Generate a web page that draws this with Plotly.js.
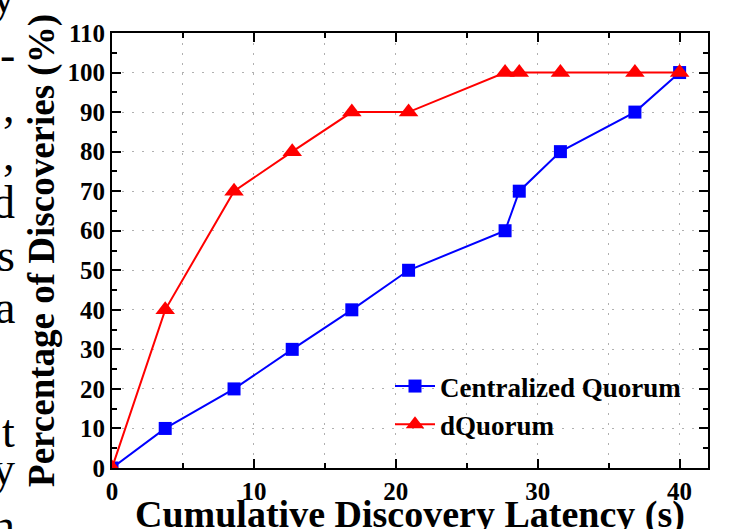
<!DOCTYPE html>
<html>
<head>
<meta charset="utf-8">
<script src="https://cdn.plot.ly/plotly-3.0.1.min.js"></script>
<style>
  html, body { margin: 0; padding: 0; background: #fff; }
  #chart { width: 734px; height: 529px; }
</style>
</head>
<body>
<div id="chart"></div>
<script>
// ---- data ----
const latency = [0, 3.75, 8.6, 12.7, 16.9, 20.9, 27.7, 28.7, 31.6, 36.85, 40];
const centralizedQuorum = [0, 10, 20, 30, 40, 50, 60, 70, 80, 90, 100];
const dQuorum = [0, 40, 70, 80, 90, 90, 100, 100, 100, 100, 100];
const seriesNames = ['Centralized Quorum', 'dQuorum'];
const xTickVals = [0, 10, 20, 30, 40];
const yTickVals = [0, 10, 20, 30, 40, 50, 60, 70, 80, 90, 100, 110];
const xTitle = 'Cumulative Discovery Latency (s)';
const yTitle = 'Percentage of Discoveries (%)';
// cropped fragments of the surrounding paper text on the left edge
const sideText = ['y', '-', ',', ',', 'd', 's', 'a', 't', 'y', 'n'];
const sideBaselines = [12, 70, 122, 170, 218, 271, 323, 447, 484, 541];

// ---- layout geometry ----
const W = 734, H = 529;
const M = { l: 112, r: 26, t: 33, b: 61 };
const pw = W - M.l - M.r, ph = H - M.t - M.b;
const serif = 'Liberation Serif, Times New Roman, serif';
const sideFont = 46;
const xTitleFont = 38;
const px2x = px => (px - M.l) / pw;
const px2y = py => (H - M.b - py) / ph;

const traces = [
  {
    x: latency, y: centralizedQuorum, name: seriesNames[0],
    type: 'scatter', mode: 'lines+markers',
    line: { color: '#0000ff', width: 2 },
    marker: { symbol: 'square', size: 13, color: '#0000ff' }
  },
  {
    x: latency, y: dQuorum, name: seriesNames[1],
    type: 'scatter', mode: 'lines+markers',
    line: { color: '#ff0000', width: 2 },
    marker: { symbol: 'triangle-up', size: 17, color: '#ff0000' }
  }
];

const axisCommon = {
  showline: true, linecolor: '#000', linewidth: 2, mirror: 'ticks',
  ticks: 'inside', ticklen: 9, tickwidth: 2, tickcolor: '#000',
  zeroline: false, automargin: false,
  tickfont: { family: serif, size: 25, color: '#000', weight: 'bold' },
  gridcolor: '#b0b0b0', gridwidth: 1, griddash: '2px,8px'
};

const annotations = sideText.map((t, i) => ({
  text: t, xref: 'paper', yref: 'paper',
  x: px2x(17), y: px2y(sideBaselines[i] - 0.3375 * sideFont),
  xanchor: 'right', yanchor: 'middle', showarrow: false,
  font: { family: serif, size: sideFont, color: '#000' }
}));
// x-axis title, placed so its baseline sits near the bottom edge as in the reference
annotations.push({
  text: xTitle, xref: 'paper', yref: 'paper',
  x: 0.5, y: px2y(527 - 0.3375 * xTitleFont),
  xanchor: 'center', yanchor: 'middle', showarrow: false,
  font: { family: serif, size: xTitleFont, color: '#000', weight: 'bold' }
});

const layout = {
  width: W, height: H,
  margin: M,
  paper_bgcolor: '#fff', plot_bgcolor: '#fff',
  showlegend: true,
  legend: {
    x: px2x(390), y: px2y(362), xanchor: 'left', yanchor: 'top',
    bgcolor: 'rgba(0,0,0,0)', borderwidth: 0, itemwidth: 40,
    font: { family: serif, size: 27, color: '#000', weight: 'bold' }
  },
  xaxis: Object.assign({}, axisCommon, {
    range: [0, 42], tickvals: xTickVals, showgrid: true,
    minor: { dtick: 5, tick0: 0, ticks: 'inside', ticklen: 5, tickwidth: 2, tickcolor: '#000',
             showgrid: true, gridcolor: '#b0b0b0', gridwidth: 1, griddash: '2px,8px' }
  }),
  yaxis: Object.assign({}, axisCommon, {
    range: [0, 110], tickvals: yTickVals, showgrid: true,
    minor: { dtick: 5, tick0: 0, ticks: 'inside', ticklen: 5, tickwidth: 2, tickcolor: '#000',
             showgrid: false },
    title: { text: yTitle, standoff: 2,
             font: { family: serif, size: 37, color: '#000', weight: 'bold' } }
  }),
  annotations: annotations
};

Plotly.newPlot('chart', traces, layout, { displayModeBar: false, staticPlot: true });
</script>
</body>
</html>
